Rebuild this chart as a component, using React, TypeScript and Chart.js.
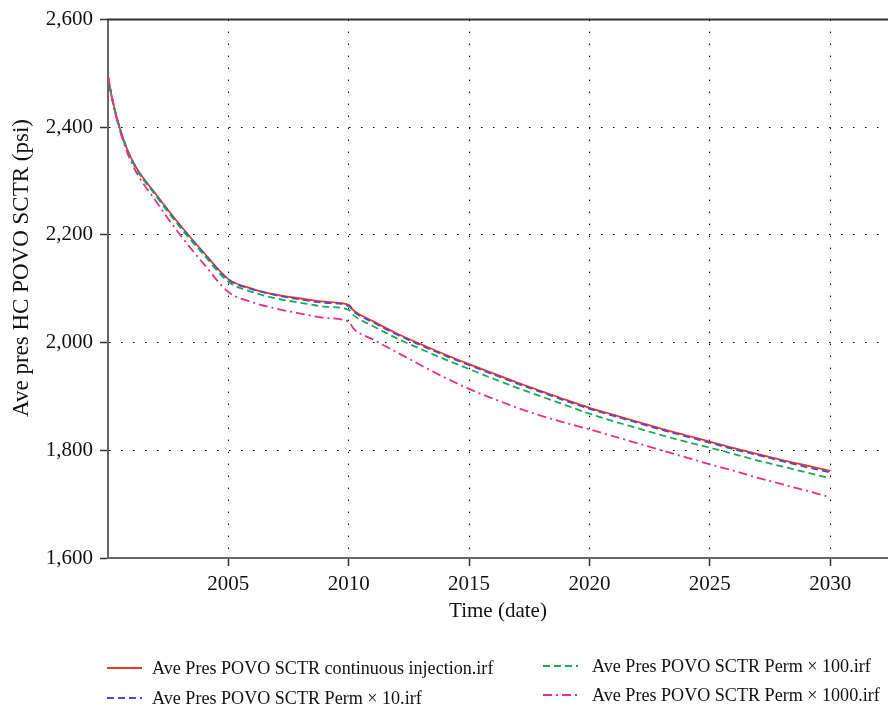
import React, { useEffect, useRef } from "react";
import { Chart, registerables } from "chart.js";

Chart.register(...registerables);

// ---- data ----
const years = [
  2000, 2000.15, 2000.5, 2001, 2002, 2003, 2004, 2005, 2006, 2007, 2008, 2009, 2010, 2010.2,
  2011, 2012, 2013, 2014, 2015, 2016, 2017, 2018, 2019, 2020,
  2021, 2022, 2023, 2024, 2025, 2026, 2027, 2028, 2029, 2030,
];
const continuousInjection = [
  2495, 2458, 2397, 2339, 2275, 2218, 2166, 2118, 2100, 2089, 2082, 2076, 2070, 2060,
  2040, 2017, 1997, 1978, 1960, 1943, 1926, 1910, 1894, 1879,
  1866, 1853, 1840, 1828, 1816, 1804, 1793, 1782, 1772, 1762,
];
const permX10 = [
  2495, 2458, 2397, 2339, 2274, 2217, 2165, 2117, 2099, 2088, 2080, 2074, 2068, 2058,
  2038, 2015, 1995, 1976, 1958, 1941, 1924, 1908, 1892, 1877,
  1864, 1851, 1838, 1826, 1814, 1802, 1791, 1780, 1769, 1759,
];
const permX100 = [
  2495, 2458, 2395, 2337, 2272, 2214, 2162, 2113, 2094, 2082, 2074, 2067, 2061, 2051,
  2031, 2008, 1988, 1969, 1951, 1933, 1916, 1900, 1884, 1868,
  1854, 1841, 1828, 1816, 1805, 1793, 1781, 1770, 1759, 1748,
];
const permX1000 = [
  2495, 2457, 2393, 2332, 2262, 2200, 2145, 2094, 2075, 2063, 2054, 2046, 2039, 2026,
  2006, 1982, 1958, 1935, 1914, 1896, 1879, 1864, 1851, 1839,
  1826, 1813, 1800, 1787, 1774, 1762, 1749, 1737, 1725, 1713,
];
const seriesNames = [
  "Ave Pres POVO SCTR continuous injection.irf",
  "Ave Pres POVO SCTR Perm × 10.irf",
  "Ave Pres POVO SCTR Perm × 100.irf",
  "Ave Pres POVO SCTR Perm × 1000.irf",
];
const yTicks = [1600, 1800, 2000, 2200, 2400, 2600];
const xTickYears = [2005, 2010, 2015, 2020, 2025, 2030];
const xTitle = "Time (date)";
const yTitle = "Ave pres HC POVO SCTR (psi)";

// ---- styles ----
const COLORS = ["#e8392b", "#5648c2", "#1aa956", "#e6308c"];
const DASHES: number[][] = [[], [7, 4], [7, 4], [9, 4, 2, 4]];
const FONT = "'Liberation Serif', 'Times New Roman', serif";

const frameAndTitle = {
  id: "frameAndTitle",
  afterDraw(chart: any) {
    const { ctx, chartArea } = chart;
    ctx.save();
    ctx.strokeStyle = "#333";
    ctx.lineWidth = 2;
    ctx.beginPath();
    ctx.moveTo(chartArea.left - 1, chartArea.top);
    ctx.lineTo(chart.width, chartArea.top);
    ctx.stroke();
    // y-axis title (placed slightly above the axis centre, as in the source)
    ctx.translate(22, 268);
    ctx.rotate(-Math.PI / 2);
    ctx.font = `23px ${FONT}`;
    ctx.fillStyle = "#111";
    ctx.textAlign = "center";
    ctx.textBaseline = "middle";
    ctx.fillText(yTitle, 0, 0);
    ctx.restore();
  },
};

const gridOpts = {
  color: "#000",
  lineWidth: 1,
  drawTicks: true,
  tickLength: 8,
  tickColor: "#333",
  tickWidth: 1.5,
  tickBorderDash: [],
} as any;

export default function App() {
  const ref = useRef<HTMLCanvasElement | null>(null);

  useEffect(() => {
    document.body.style.margin = "0";
    if (!ref.current) return;
    const all = [continuousInjection, permX10, permX100, permX1000];
    const drawOrder = [3, 2, 1, 0];
    const chart = new Chart(ref.current, {
      type: "line",
      data: {
        datasets: drawOrder.map((i) => ({
          label: seriesNames[i],
          data: years.map((x, k) => ({ x, y: all[i][k] })),
          borderColor: COLORS[i],
          backgroundColor: COLORS[i],
          borderWidth: 1.8,
          borderDash: DASHES[i],
          pointRadius: 0,
          cubicInterpolationMode: "monotone" as const,
          fill: false,
        })),
      },
      options: {
        animation: false,
        responsive: false,
        layout: { padding: { top: 16, right: 0, left: 0, bottom: 0 } },
        plugins: { legend: { display: false }, tooltip: { enabled: false } },
        scales: {
          x: {
            type: "linear",
            min: 2000,
            max: 2032.4,
            afterBuildTicks: (axis: any) => {
              axis.ticks = xTickYears.map((v) => ({ value: v }));
            },
            afterFit: (scale: any) => {
              scale.height = 156;
            },
            ticks: {
              callback: (v: any) => String(v),
              font: { family: FONT, size: 21 },
              color: "#111",
              padding: 6,
              maxRotation: 0,
              autoSkip: false,
            },
            grid: gridOpts,
            border: { display: true, color: "#666", width: 2, dash: [1.5, 10.5] } as any,
            title: {
              display: true,
              text: xTitle,
              font: { family: FONT, size: 21 },
              color: "#111",
              padding: { top: 0, bottom: 90 },
            },
          },
          y: {
            type: "linear",
            min: 1600,
            max: 2600,
            afterBuildTicks: (axis: any) => {
              axis.ticks = yTicks.map((v) => ({ value: v }));
            },
            afterFit: (scale: any) => {
              scale.width = 108;
            },
            ticks: {
              callback: (v: any) => Number(v).toLocaleString("en-US"),
              font: { family: FONT, size: 21 },
              color: "#111",
              padding: 7,
            },
            grid: gridOpts,
            border: { display: true, color: "#666", width: 2, dash: [1.5, 10.5] } as any,
            title: { display: false },
          },
        },
      },
      plugins: [frameAndTitle],
    });
    return () => chart.destroy();
  }, []);

  const legendItems = [
    { i: 0, x: 107, y: 668, gap: 9 },
    { i: 1, x: 107, y: 698, gap: 9 },
    { i: 2, x: 543, y: 666, gap: 13 },
    { i: 3, x: 543, y: 695, gap: 13 },
  ];

  return (
    <div style={{ position: "relative", width: 888, height: 714, background: "#fff" }}>
      <canvas ref={ref} width={888} height={714} style={{ display: "block" }} />
      {legendItems.map(({ i, x, y, gap }) => (
        <div
          key={i}
          style={{
            position: "absolute",
            left: x,
            top: y,
            transform: "translateY(-50%)",
            display: "flex",
            alignItems: "center",
            whiteSpace: "nowrap",
            fontFamily: FONT,
            fontSize: 18.1,
            color: "#111",
            lineHeight: "22px",
          }}
        >
          <svg width={36} height={6} style={{ marginRight: gap }}>
            <line
              x1={0}
              y1={3}
              x2={35}
              y2={3}
              stroke={COLORS[i]}
              strokeWidth={1.8}
              strokeDasharray={DASHES[i].length ? DASHES[i].join(" ") : undefined}
            />
          </svg>
          <span>{seriesNames[i]}</span>
        </div>
      ))}
    </div>
  );
}
